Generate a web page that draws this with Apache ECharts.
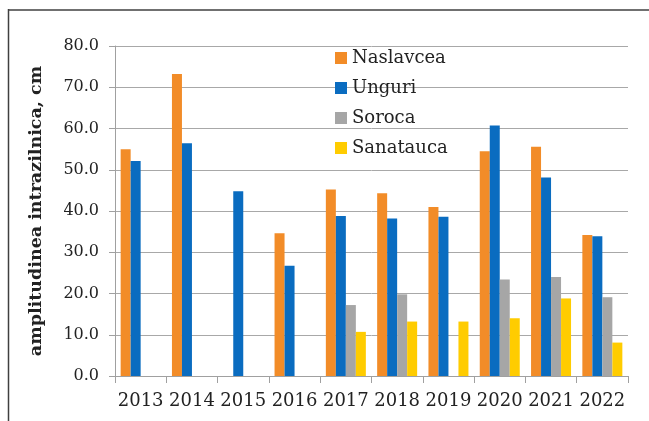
<!DOCTYPE html>
<html>
<head>
<meta charset="utf-8">
<script src="https://cdn.jsdelivr.net/npm/echarts@6/dist/echarts.min.js"></script>
<style>
html,body{margin:0;padding:0;background:#fff;}
#chart{width:649px;height:421px;}
</style>
</head>
<body>
<div id="chart"></div>
<script>
const years = ['2013','2014','2015','2016','2017','2018','2019','2020','2021','2022'];
const naslavcea = [55.0, 73.2, null, 34.6, 45.2, 44.3, 41.0, 54.5, 55.6, 34.2];
const unguri    = [52.1, 56.4, 44.8, 26.7, 38.8, 38.2, 38.6, 60.7, 48.1, 33.9];
const soroca    = [null, null, null, null, 17.2, 19.8, null, 23.4, 24.0, 19.1];
const sanatauca = [null, null, null, null, 10.7, 13.2, 13.2, 14.0, 18.8, 8.1];
const seriesNames = ['Naslavcea','Unguri','Soroca','Sanatauca'];
const yTicks = [0, 10, 20, 30, 40, 50, 60, 70, 80];

const colors = ['#F28C28', '#0A6CC0', '#A6A6A6', '#FFCC00'];
const serif = 'DejaVu Serif';
const chart = echarts.init(document.getElementById('chart'), null, {renderer: 'canvas'});
const mk = (name, data) => ({
  name, type: 'bar', data, barWidth: 10, barGap: '0%',
});
chart.setOption({
  animation: false,
  color: colors,
  grid: {left: 115, right: 21, top: 46, bottom: 45, containLabel: false},
  legend: {
    orient: 'vertical', left: 330, top: 44,
    icon: 'rect', itemWidth: 12, itemHeight: 12, itemGap: 12,
    textStyle: {fontFamily: serif, fontSize: 18, color: '#222', lineHeight: 18},
    data: seriesNames
  },
  xAxis: {
    type: 'category', data: years,
    axisLine: {lineStyle: {color: '#a0a0a0', width: 1}},
    axisTick: {show: true, length: 7, lineStyle: {color: '#a0a0a0'}},
    axisLabel: {fontFamily: serif, fontSize: 18, color: '#222', margin: 16, interval: 0}
  },
  yAxis: {
    type: 'value', min: yTicks[0], max: yTicks[yTicks.length-1], interval: 10,
    name: 'amplitudinea intrazilnica, cm', nameLocation: 'middle', nameGap: 70,
    nameTextStyle: {fontFamily: serif, fontSize: 17.5, fontWeight: 'bold', color: '#222'},
    axisLine: {show: true, lineStyle: {color: '#a0a0a0'}},
    axisTick: {show: true, length: 6, lineStyle: {color: '#a0a0a0'}},
    axisLabel: {fontFamily: serif, fontSize: 16, color: '#222', margin: 16,
      formatter: v => v.toFixed(1)},
    splitLine: {lineStyle: {color: '#a8a8a8', width: 1}}
  },
  graphic: [
    {type: 'line', shape: {x1: 8, y1: 10, x2: 649, y2: 10}, style: {stroke: '#707070', lineWidth: 2}},
    {type: 'line', shape: {x1: 8.5, y1: 9, x2: 8.5, y2: 421}, style: {stroke: '#404040', lineWidth: 1.5}}
  ],
  series: [
    mk(seriesNames[0], naslavcea),
    mk(seriesNames[1], unguri),
    mk(seriesNames[2], soroca),
    mk(seriesNames[3], sanatauca)
  ]
});
</script>
</body>
</html>
